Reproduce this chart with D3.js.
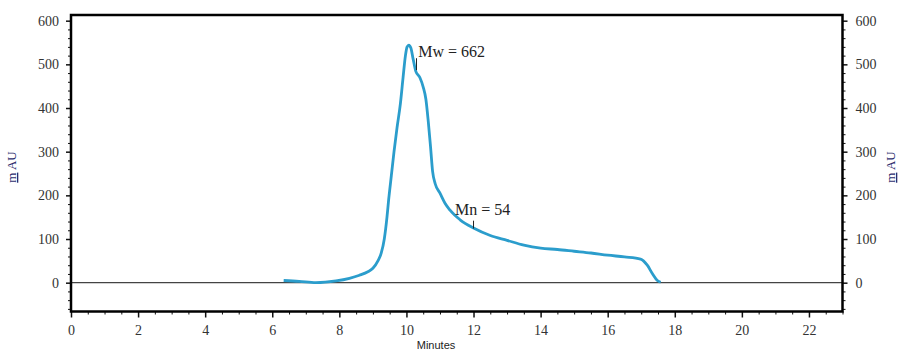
<!DOCTYPE html>
<html>
<head>
<meta charset="utf-8">
<script src="https://cdn.jsdelivr.net/npm/d3@7"></script>
<style>
  body { margin: 0; background: #fff; }
  svg { display: block; }
  .tick text { font-family: "Liberation Serif", "DejaVu Serif", serif; font-size: 14px; fill: #333; }
  .tick line { stroke: #111; }
  .domain { display: none; }
</style>
</head>
<body>
<div id="chart"></div>
<script>
// chromatogram trace (minutes, mAU)
const minutes = [6.34, 6.8, 7.3, 7.9, 8.3, 8.6, 8.85, 9.0, 9.15, 9.25, 9.34, 9.42, 9.47, 9.55, 9.63, 9.72,
  9.82, 9.9, 9.97, 10.02, 10.07, 10.13, 10.2, 10.28, 10.4, 10.5, 10.58, 10.65, 10.72, 10.78, 10.86,
  11.0, 11.15, 11.3, 11.6, 12.0, 12.5, 13.0, 13.5, 14.0, 14.5, 15.0, 15.5, 16.0, 16.5, 16.98, 17.18,
  17.33, 17.48, 17.58];
const mAU = [5, 3, 0, 4, 10, 17, 25, 33, 50, 68, 100, 150, 190, 245, 300, 355,
  410, 470, 520, 540, 544, 538, 512, 484, 470, 448, 420, 370, 310, 255, 226,
  205, 182, 166, 144, 125, 108, 97, 86, 79, 76, 72, 68, 63, 59, 54, 40,
  21, 5, 1];

const xTicks = [0, 2, 4, 6, 8, 10, 12, 14, 16, 18, 20, 22];
const yTicks = [0, 100, 200, 300, 400, 500, 600];

// marker position (minutes, mAU from/to) and label anchor (minutes, mAU)
const annotations = [
  {label: 'Mw = 662', t: 10.3, y1: 514, y2: 487, tx: 10.35, ty: 517},
  {label: 'Mn = 54', t: 12.0, y1: 142, y2: 124, tx: 11.45, ty: 155}
];

const width = 899, height = 350;
const m = {left: 71, right: 842.5, top: 15, bottom: 311.5};

const svg = d3.select('#chart').append('svg')
  .attr('width', width)
  .attr('height', height);

const x = d3.scaleLinear().domain([0, 23]).range([m.left, m.right]);
const y = d3.scaleLinear().domain([-66, 613]).range([m.bottom, m.top]);

const minorX = d3.range(0, 23.01, 0.5).filter(v => v % 2 !== 0);
const minorY = d3.range(-60, 601, 20).filter(v => v % 100 !== 0);

// minor ticks first, then the labelled ones
svg.append('g')
  .attr('transform', `translate(0,${m.bottom})`)
  .call(d3.axisBottom(x).tickValues(minorX).tickSize(3).tickFormat(''));
svg.append('g')
  .attr('transform', `translate(0,${m.bottom})`)
  .call(d3.axisBottom(x).tickValues(xTicks).tickSize(6).tickPadding(8).tickFormat(d3.format('d')))
  .selectAll('line').attr('stroke-width', 1.5);

svg.append('g')
  .attr('transform', `translate(${m.left},0)`)
  .call(d3.axisLeft(y).tickValues(minorY).tickSize(3).tickFormat(''));
svg.append('g')
  .attr('transform', `translate(${m.left},0)`)
  .call(d3.axisLeft(y).tickValues(yTicks).tickSize(5).tickPadding(7).tickFormat(d3.format('d')))
  .selectAll('line').attr('stroke-width', 1.5);

svg.append('g')
  .attr('transform', `translate(${m.right},0)`)
  .call(d3.axisRight(y).tickValues(minorY).tickSize(3).tickFormat(''));
svg.append('g')
  .attr('transform', `translate(${m.right},0)`)
  .call(d3.axisRight(y).tickValues(yTicks).tickSize(5).tickPadding(8).tickFormat(d3.format('d')))
  .selectAll('line').attr('stroke-width', 1.5);

// zero line
svg.append('line')
  .attr('x1', m.left).attr('x2', m.right)
  .attr('y1', y(0)).attr('y2', y(0))
  .attr('stroke', '#444')
  .attr('stroke-width', 1.2);

// trace
const line = d3.line()
  .x((d, i) => x(minutes[i]))
  .y(d => y(d))
  .curve(d3.curveMonotoneX);

svg.append('path')
  .datum(mAU)
  .attr('d', line)
  .attr('fill', 'none')
  .attr('stroke', '#2b9dcc')
  .attr('stroke-width', 2.8)
  .attr('stroke-linejoin', 'round');

// Mw / Mn markers
annotations.forEach(a => {
  svg.append('line')
    .attr('x1', x(a.t)).attr('x2', x(a.t))
    .attr('y1', y(a.y1)).attr('y2', y(a.y2))
    .attr('stroke', '#222')
    .attr('stroke-width', 1);
  svg.append('text')
    .attr('x', x(a.tx))
    .attr('y', y(a.ty))
    .attr('font-family', '"Liberation Serif", "DejaVu Serif", serif')
    .attr('font-size', 16)
    .attr('fill', '#222')
    .text(a.label);
});

// frame
svg.append('rect')
  .attr('x', m.left).attr('y', m.top)
  .attr('width', m.right - m.left).attr('height', m.bottom - m.top)
  .attr('fill', 'none')
  .attr('stroke', '#000')
  .attr('stroke-width', 2.5);

// axis titles
svg.append('text')
  .attr('x', 436).attr('y', 349)
  .attr('text-anchor', 'middle')
  .attr('font-family', '"Liberation Sans", Arial, sans-serif')
  .attr('font-size', 11)
  .attr('fill', '#222')
  .text('Minutes');

[16, 895].forEach(cx => {
  const t = svg.append('text')
    .attr('transform', `translate(${cx},167) rotate(-90)`)
    .attr('text-anchor', 'middle')
    .attr('font-family', '"Liberation Serif", "DejaVu Serif", serif')
    .attr('font-size', 13)
    .attr('fill', '#2d2d6e');
  t.append('tspan').attr('text-decoration', 'underline').text('m');
  t.append('tspan').text(' AU');
});
</script>
</body>
</html>
